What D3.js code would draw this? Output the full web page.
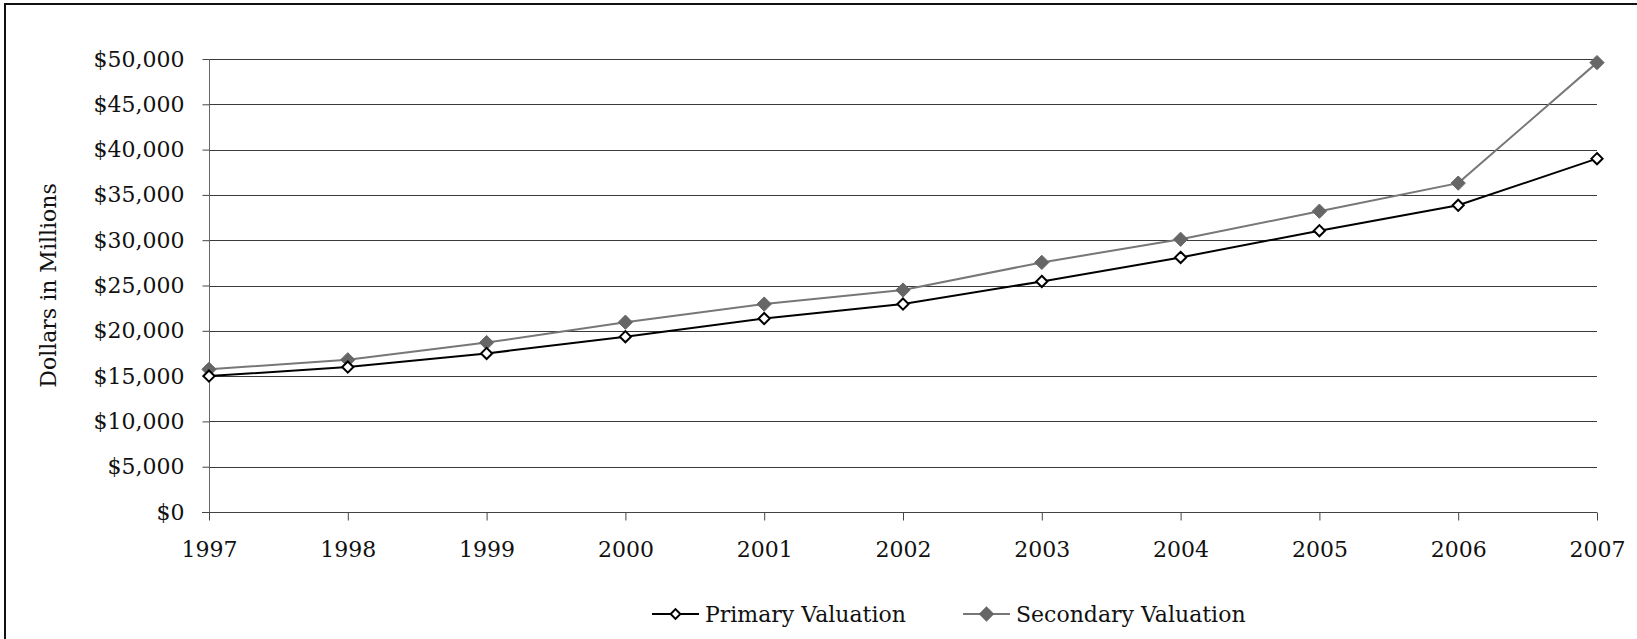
<!DOCTYPE html>
<html>
<head>
<meta charset="utf-8">
<script src="https://cdn.jsdelivr.net/npm/d3@7"></script>
<style>
  html, body { margin: 0; padding: 0; background: #fff; }
  svg { display: block; }
  text { font-family: "DejaVu Serif", serif; fill: #111; }
</style>
</head>
<body>
<div id="chart"></div>
<script>
const years = ["1997","1998","1999","2000","2001","2002","2003","2004","2005","2006","2007"];
const primaryValues = [15000, 16000, 17500, 19350, 21350, 22950, 25450, 28100, 31050, 33850, 39000];
const secondaryValues = [15750, 16800, 18700, 20950, 22950, 24500, 27550, 30100, 33200, 36300, 49600];
const yTicks = [0, 5000, 10000, 15000, 20000, 25000, 30000, 35000, 40000, 45000, 50000];
const seriesNames = ["Primary Valuation", "Secondary Valuation"];
const yAxisTitle = "Dollars in Millions";

const W = 1637, H = 639;
const margin = {left: 209, right: 40, top: 59, bottom: 127};
const fontSize = 22;

const svg = d3.select("#chart").append("svg").attr("width", W).attr("height", H);

// outer frame (left and top edges visible)
svg.append("line").attr("x1", 5).attr("x2", W).attr("y1", 4).attr("y2", 4)
  .attr("stroke", "#111").attr("stroke-width", 2);
svg.append("line").attr("x1", 5).attr("x2", 5).attr("y1", 3).attr("y2", H)
  .attr("stroke", "#111").attr("stroke-width", 2);

const x = d3.scalePoint().domain(years).range([margin.left, W - margin.right]);
const y = d3.scaleLinear().domain([0, 50000]).range([H - margin.bottom, margin.top]);

const fmt = v => "$" + d3.format(",")(v);

// gridlines
svg.append("g").selectAll("line").data(yTicks.filter(d => d > 0)).join("line")
  .attr("x1", margin.left).attr("x2", W - margin.right)
  .attr("y1", d => Math.round(y(d)) + 0.5).attr("y2", d => Math.round(y(d)) + 0.5)
  .attr("stroke", "#3a3a3a").attr("stroke-width", 1);

// y axis
const yAxis = svg.append("g").attr("transform", `translate(${margin.left + 0.5},0)`)
  .call(d3.axisLeft(y).tickValues(yTicks).tickFormat(fmt).tickSize(7).tickPadding(18));
yAxis.select(".domain").attr("stroke", "#666").attr("d", `M0,${y(50000)}V${y(0)}`);
yAxis.selectAll(".tick line").attr("stroke", "#444");
yAxis.selectAll(".tick text").attr("font-family", "DejaVu Serif").attr("font-size", fontSize).attr("fill", "#111");

// x axis
const xAxis = svg.append("g").attr("transform", `translate(0,${Math.round(y(0)) + 0.5})`)
  .call(d3.axisBottom(x).tickSize(8).tickPadding(21));
xAxis.select(".domain").attr("stroke", "#444").attr("d", `M${margin.left - 7},0H${W - margin.right}`);
xAxis.selectAll(".tick line").attr("stroke", "#444");
xAxis.selectAll(".tick text").attr("font-family", "DejaVu Serif").attr("font-size", fontSize).attr("fill", "#111");

// y title
svg.append("text").attr("transform", `translate(56,${(y(0) + y(50000)) / 2}) rotate(-90)`)
  .attr("text-anchor", "middle").attr("font-size", fontSize).text(yAxisTitle);

const line = d3.line().x((d, i) => x(years[i])).y(d => y(d));
const diamond = d3.symbol().type(d3.symbolDiamond2);

// secondary series
svg.append("path").datum(secondaryValues).attr("d", line)
  .attr("fill", "none").attr("stroke", "#777").attr("stroke-width", 2);
svg.append("g").selectAll("path").data(secondaryValues).join("path")
  .attr("transform", (d, i) => `translate(${x(years[i])},${y(d)})`)
  .attr("d", diamond.size(130)).attr("fill", "#666").attr("stroke", "#666").attr("stroke-width", 1);

// primary series
svg.append("path").datum(primaryValues).attr("d", line)
  .attr("fill", "none").attr("stroke", "#000").attr("stroke-width", 2);
svg.append("g").selectAll("path").data(primaryValues).join("path")
  .attr("transform", (d, i) => `translate(${x(years[i])},${y(d)})`)
  .attr("d", diamond.size(80)).attr("fill", "#fff").attr("stroke", "#000").attr("stroke-width", 2);

// legend
const legY = 614;
const legendItems = [
  {name: seriesNames[0], x0: 652, stroke: "#000", fill: "#fff", mstroke: "#000", size: 60},
  {name: seriesNames[1], x0: 963, stroke: "#777", fill: "#666", mstroke: "#666", size: 100}
];
legendItems.forEach(it => {
  const g = svg.append("g");
  g.append("line").attr("x1", it.x0).attr("x2", it.x0 + 47).attr("y1", legY).attr("y2", legY)
    .attr("stroke", it.stroke).attr("stroke-width", 2);
  g.append("path").attr("transform", `translate(${it.x0 + 23.5},${legY})`)
    .attr("d", diamond.size(it.size)).attr("fill", it.fill).attr("stroke", it.mstroke).attr("stroke-width", 2);
  g.append("text").attr("x", it.x0 + 53).attr("y", legY).attr("dy", "0.35em")
    .attr("font-size", fontSize).text(it.name);
});
</script>
</body>
</html>
